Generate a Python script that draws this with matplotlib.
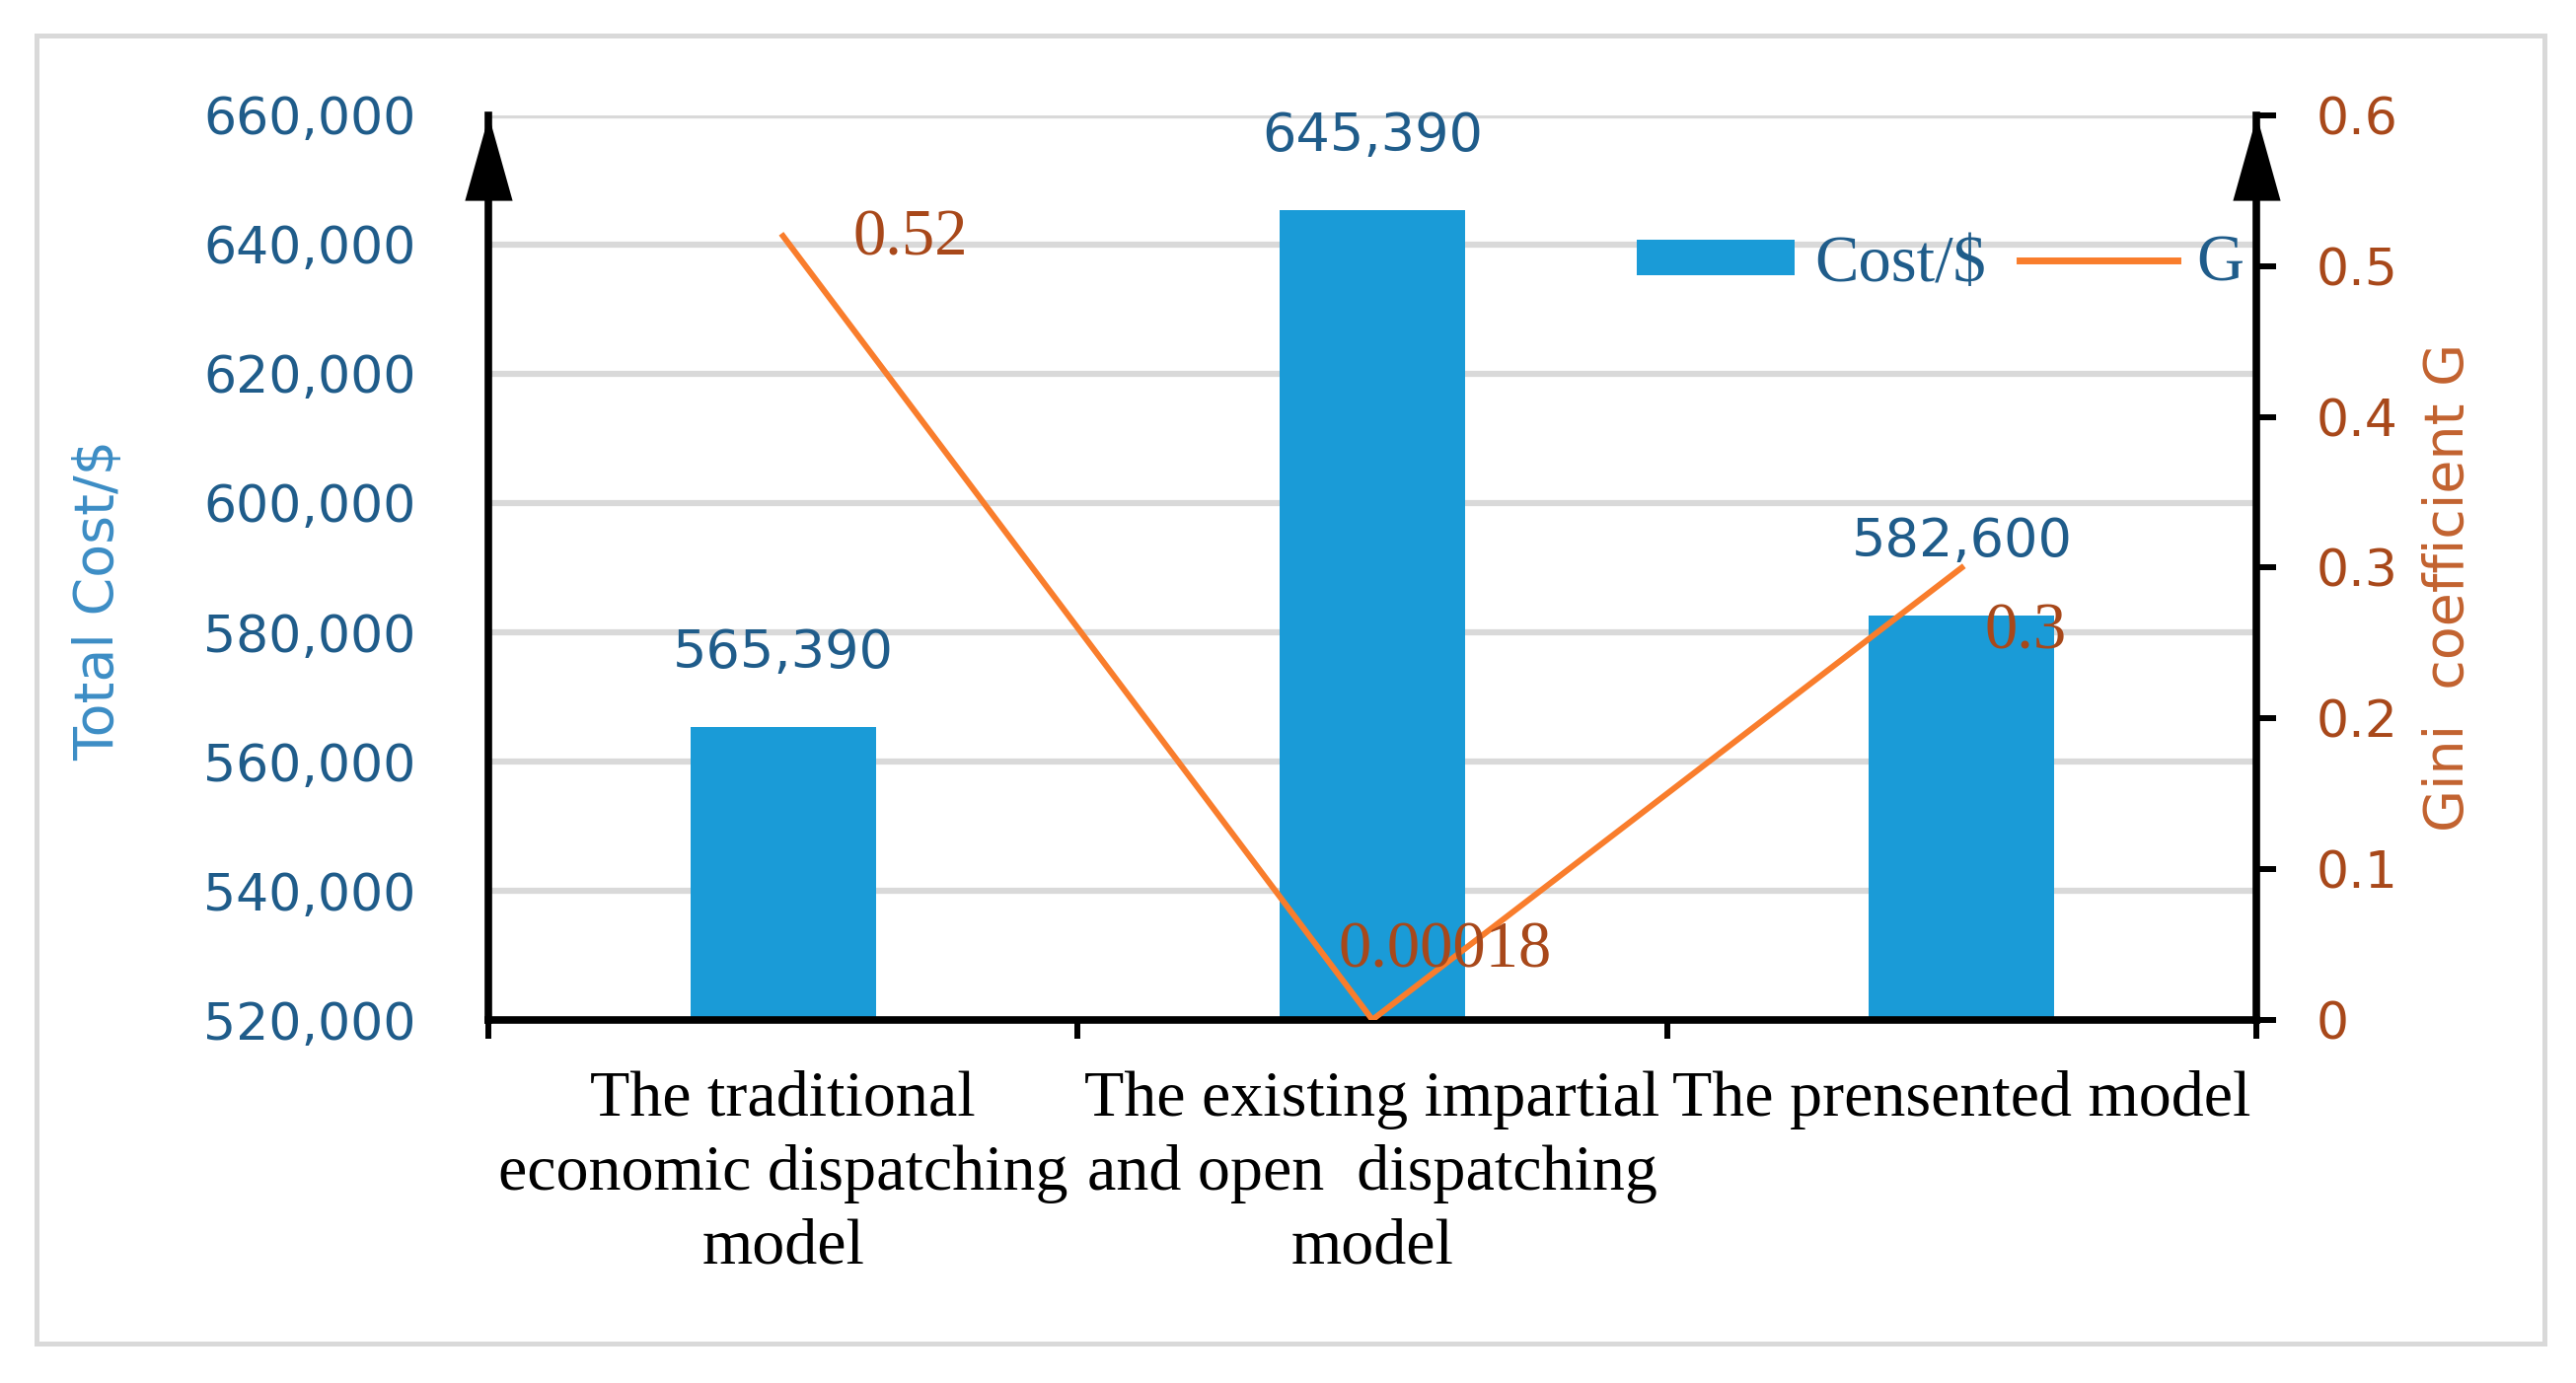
import matplotlib
matplotlib.use("Agg")
import matplotlib.pyplot as plt
from matplotlib.patches import Rectangle
from matplotlib.lines import Line2D
from matplotlib.patches import Patch

# data
categories = ["The traditional\neconomic dispatching\nmodel",
              "The existing impartial\nand open  dispatching\nmodel",
              "The prensented model"]
cost = [565390, 645390, 582600]
gini = [0.52, 0.00018, 0.3]
gini_labels = ["0.52", "0.00018", "0.3"]
cost_ticks = [520000, 540000, 560000, 580000, 600000, 620000, 640000, 660000]
gini_ticks = [0, 0.1, 0.2, 0.3, 0.4, 0.5, 0.6]
gini_tick_labels = ["0", "0.1", "0.2", "0.3", "0.4", "0.5", "0.6"]

BAR = "#1A9BD7"
LINE = "#F97D2C"
DARKBLUE = "#1F5C8A"
BROWN = "#A8481A"
SERIF = "Liberation Serif"
SANS = "DejaVu Sans"

fig = plt.figure(figsize=(26.11, 14.02), dpi=100)
fig.patches.append(Rectangle((0.0142, 0.0285), 0.9735, 0.9458, transform=fig.transFigure,
                             fill=False, edgecolor="#D9D9D9", lw=3.6))

ax = fig.add_axes([0.18958, 0.26248, 0.68633, 0.65407])
ax2 = ax.twinx()

x = list(range(len(categories)))
ax.bar(x, cost, width=0.315, color=BAR, zorder=2)
ax.set_xlim(-0.5, 2.5)
ax.set_ylim(520000, 660000)
ax.set_yticks(cost_ticks)
ax.set_yticklabels([f"{v:,}" for v in cost_ticks], fontsize=37.5, family=SANS, color=DARKBLUE)
ax.tick_params(axis="y", length=0, pad=53)
ax.yaxis.grid(True, color="#D9D9D9", lw=4.5)
ax.set_axisbelow(True)

ax.set_xticks(x)
ax.set_xticklabels(categories, fontsize=47.5, family=SERIF, color="black", linespacing=1.33)
ax.tick_params(axis="x", length=0, pad=37)
ax.set_xticks([-0.5, 0.5, 1.5, 2.5], minor=True)
ax.tick_params(axis="x", which="minor", length=14, width=4.3, direction="out", color="black")

for s in ["top", "right"]:
    ax.spines[s].set_visible(False)
for s in ["left", "bottom"]:
    ax.spines[s].set_linewidth(5.5)
    ax.spines[s].set_color("black")

for xi, v in zip(x, cost):
    ax.annotate(f"{v:,}", (xi, v), xytext=(0, 54), textcoords="offset points",
                ha="center", va="center", fontsize=39, family=SANS, color=DARKBLUE, zorder=5)

# Gini line on the right axis
ax2.plot(x, gini, color=LINE, lw=4.3, zorder=3)
ax2.set_ylim(0, 0.6)
ax2.set_yticks(gini_ticks)
ax2.set_yticklabels(gini_tick_labels, fontsize=37.5, family=SANS, color=BROWN)
ax2.tick_params(axis="y", length=14.4, width=4.3, direction="out", pad=29)
for s in ["top", "left", "bottom"]:
    ax2.spines[s].set_visible(False)
ax2.spines["right"].set_linewidth(5.5)
ax2.spines["right"].set_color("black")

label_offsets = [(51, -2), (-24.5, 50), (16.5, -47.5)]
for xi, g, txt, off in zip(x, gini, gini_labels, label_offsets):
    ax2.annotate(txt, (xi, g), xytext=off, textcoords="offset points",
                 ha="left", va="center", fontsize=48, family=SERIF, color=BROWN, zorder=6)

# arrow heads on top of both vertical axes
arrow = [(-0.28, -1.0), (0.28, -1.0), (0.0, 0.0)]
for xa in [0, 1]:
    ax2.plot([xa], [1], marker=arrow, markersize=124, color="black", markeredgewidth=0,
             transform=ax2.transAxes, clip_on=False, zorder=10)

fig.text(100 / 2611, 1 - 608 / 1402, "Total Cost/$", rotation=90, ha="center", va="center",
         fontsize=40, family=SANS, color="#3C8DC5")
fig.text(2482 / 2611, 1 - 595 / 1402, "Gini  coefficient G", rotation=90, ha="center", va="center",
         fontsize=40, family=SANS, color="#C2622F")

handles = [Patch(facecolor=BAR, edgecolor="none"), Line2D([0], [0], color=LINE, lw=5)]
ax2.legend(handles, ["Cost/$", "G"], loc="center right", bbox_to_anchor=(2308 / 2611, 1 - 268 / 1402),
           bbox_transform=fig.transFigure, ncol=2, frameon=False, handlelength=2.4,
           handleheight=0.45, handletextpad=0.3, columnspacing=0.5, borderpad=0,
           prop={"family": SERIF, "size": 48}, labelcolor=DARKBLUE)

fig.savefig("out.png", dpi=100)
